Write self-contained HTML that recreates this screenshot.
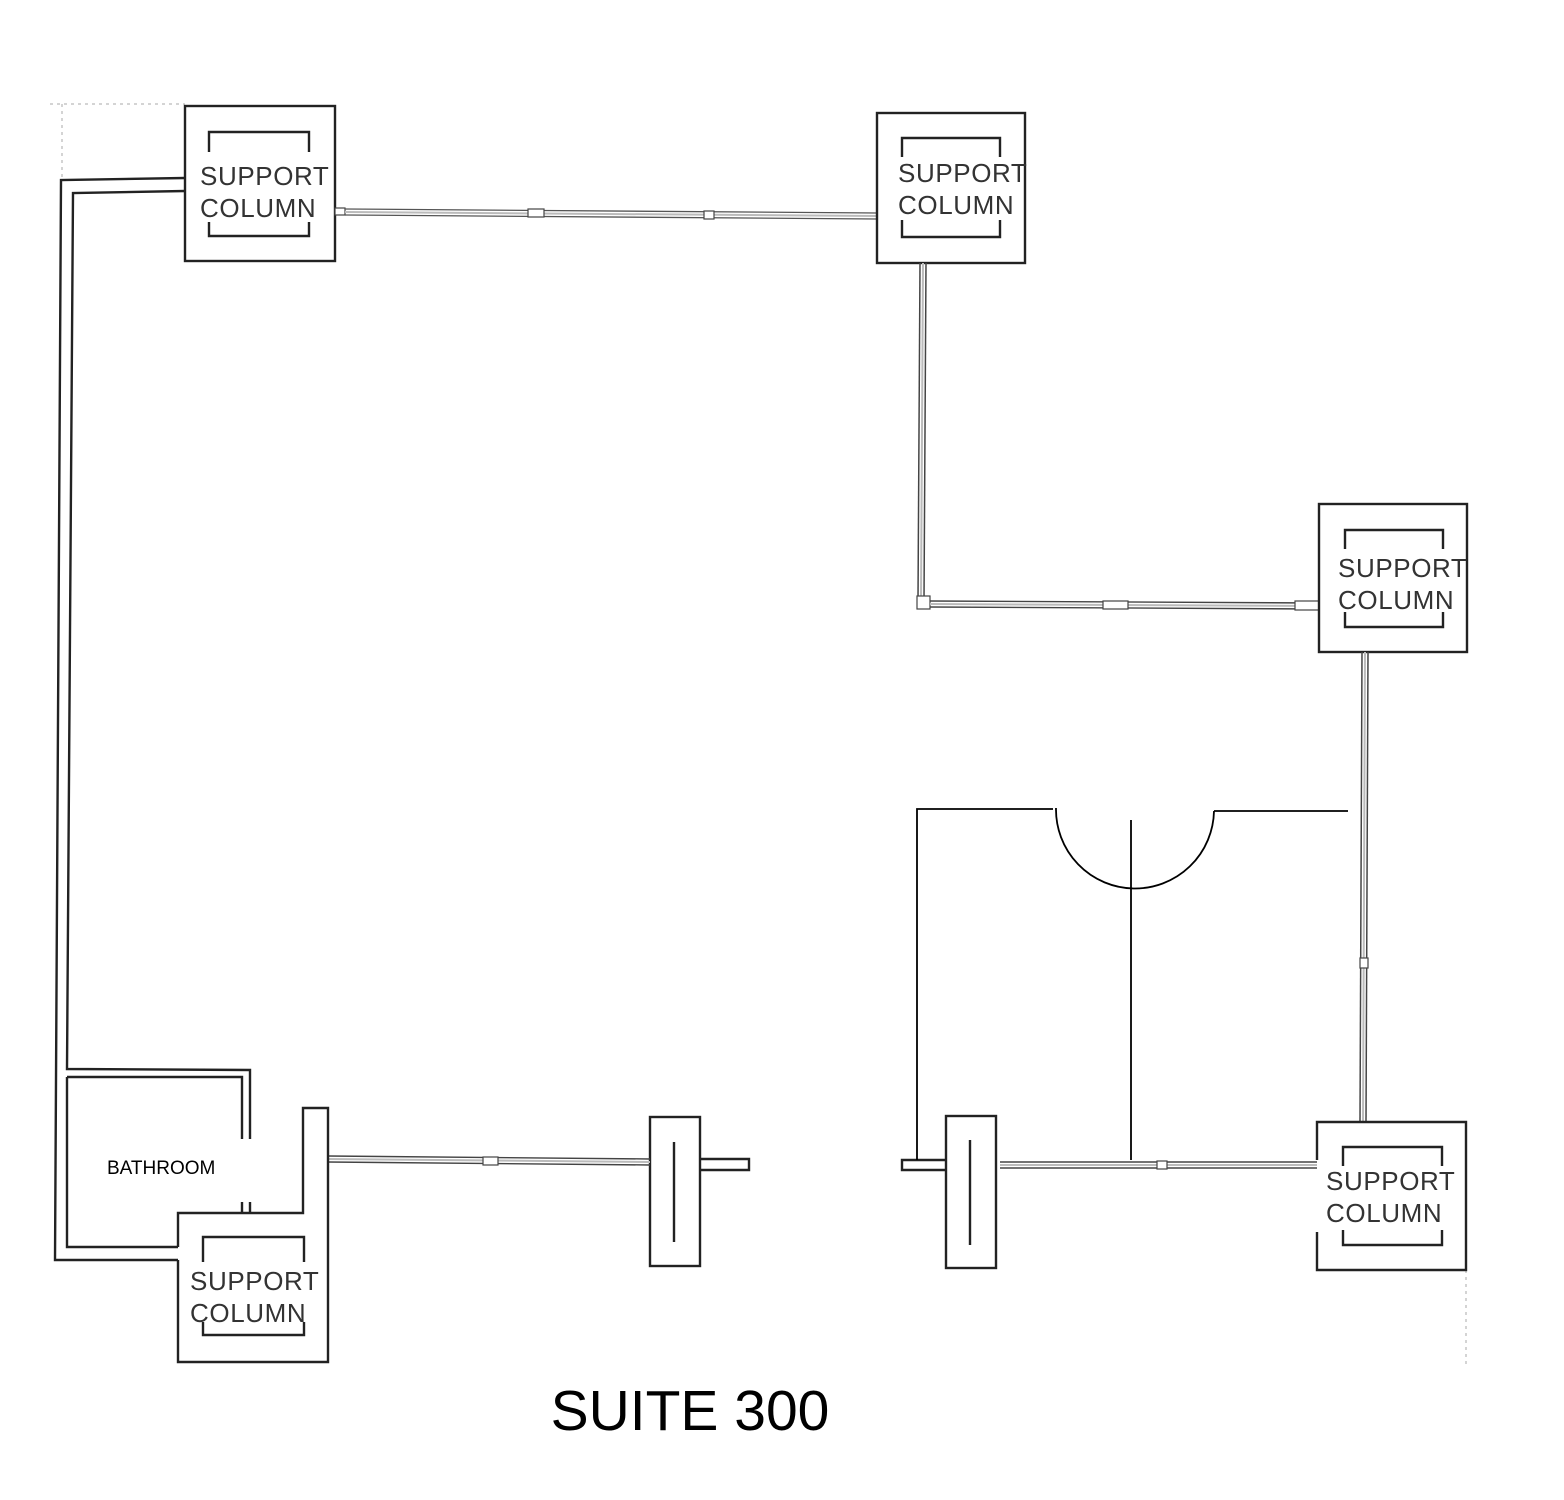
<!DOCTYPE html>
<html><head><meta charset="utf-8"><style>
html,body{margin:0;padding:0;background:#fff;}
svg{display:block;}
.w{fill:none;stroke:#222;stroke-width:2.4;}
.t{stroke:#000;stroke-width:1.8;fill:none;}
.lbl{font-family:"Liberation Sans",sans-serif;font-size:26px;fill:#333;letter-spacing:0.6px;}
.dw{fill:#fff;stroke:#444;stroke-width:1.2;}
</style></head><body>
<svg width="1564" height="1500" viewBox="0 0 1564 1500" xmlns="http://www.w3.org/2000/svg">
<g stroke="#aaa" stroke-width="1" stroke-dasharray="3,4" fill="none">
<line x1="50" y1="104" x2="185" y2="104"/><line x1="62" y1="104" x2="62" y2="178"/>
<line x1="1466" y1="1270" x2="1466" y2="1365"/>
</g>

<path class="w" d="M185 178 L61 180 L55 1260 L178 1260"/>
<path class="w" d="M185 191 L73 193 L67 1069 L250 1070 L250 1139"/>
<path class="w" d="M242 1139 L242 1077 L67 1077"/>
<path class="w" d="M67 1077 L67 1247 L178 1247"/>
<path class="w" d="M242 1202 L242 1213 M250 1202 L250 1213"/>

<rect class="w" x="185" y="106" width="150" height="155"/>
<path class="w" d="M209 152 V132 H309 V152 M209 222 V236 H309 V222"/>
<text class="lbl" x="200" y="185">SUPPORT</text>
<text class="lbl" x="200" y="217">COLUMN</text>

<rect class="dw" x="335" y="208" width="10" height="7"/>
<line x1="345" y1="209" x2="877" y2="213" stroke="#555" stroke-width="1.3"/>
<line x1="345" y1="215" x2="877" y2="219" stroke="#555" stroke-width="1.3"/>
<line x1="345" y1="212" x2="877" y2="216" stroke="#bbb" stroke-width="2"/>
<rect class="dw" x="528" y="209" width="16" height="8"/>
<rect class="dw" x="704" y="211" width="10" height="8"/>

<rect class="w" x="877" y="113" width="148" height="150"/>
<path class="w" d="M902 157 V138 H1000 V157 M902 220 V237 H1000 V220"/>
<text class="lbl" x="898" y="182">SUPPORT</text>
<text class="lbl" x="898" y="214">COLUMN</text>

<line x1="920" y1="263" x2="918" y2="600" stroke="#444" stroke-width="1.5"/>
<line x1="926" y1="263" x2="924" y2="600" stroke="#444" stroke-width="1.5"/>
<line x1="923" y1="263" x2="921" y2="600" stroke="#bbb" stroke-width="2"/>
<rect class="dw" x="917" y="596" width="13" height="13"/>
<line x1="930" y1="601" x2="1318" y2="603" stroke="#444" stroke-width="1.4"/>
<line x1="930" y1="607" x2="1318" y2="609" stroke="#444" stroke-width="1.4"/>
<line x1="930" y1="604" x2="1318" y2="606" stroke="#bbb" stroke-width="2"/>
<rect class="dw" x="1103" y="601" width="25" height="8"/>
<rect class="dw" x="1295" y="601" width="24" height="9"/>

<rect class="w" x="1319" y="504" width="148" height="148"/>
<path class="w" d="M1345 549 V530 H1443 V549 M1345 612 V627 H1443 V612"/>
<text class="lbl" x="1338" y="577">SUPPORT</text>
<text class="lbl" x="1338" y="609">COLUMN</text>

<line x1="1362" y1="652" x2="1360" y2="1122" stroke="#444" stroke-width="1.5"/>
<line x1="1368" y1="652" x2="1366" y2="1122" stroke="#444" stroke-width="1.5"/>
<line x1="1365" y1="652" x2="1363" y2="1122" stroke="#bbb" stroke-width="2"/>
<rect class="dw" x="1360" y="958" width="8" height="10"/>

<path class="w" d="M1317 1160 V1122 H1466 V1270 H1317 V1232"/>
<path class="w" d="M1343 1166 V1147 H1442 V1166 M1343 1230 V1245 H1442 V1230"/>
<text class="lbl" x="1326" y="1190">SUPPORT</text>
<text class="lbl" x="1326" y="1222">COLUMN</text>

<line x1="1000" y1="1162" x2="1317" y2="1162" stroke="#444" stroke-width="1.4"/>
<line x1="1000" y1="1168" x2="1317" y2="1168" stroke="#444" stroke-width="1.4"/>
<line x1="1000" y1="1165" x2="1317" y2="1165" stroke="#bbb" stroke-width="2"/>
<rect class="dw" x="1157" y="1161" width="10" height="8"/>

<rect class="w" x="946" y="1116" width="50" height="152"/>
<line class="w" x1="970" y1="1140" x2="970" y2="1245"/>
<path class="w" d="M946 1160 H902 V1170 H946"/>
<rect class="w" x="650" y="1117" width="50" height="149"/>
<line class="w" x1="674" y1="1142" x2="674" y2="1242"/>
<path class="w" d="M700 1159 H749 V1170 H700"/>

<line x1="328" y1="1156" x2="650" y2="1159" stroke="#444" stroke-width="1.4"/>
<line x1="328" y1="1162" x2="650" y2="1165" stroke="#444" stroke-width="1.4"/>
<line x1="328" y1="1159" x2="650" y2="1162" stroke="#bbb" stroke-width="2"/>
<rect class="dw" x="483" y="1157" width="15" height="8"/>

<path class="w" d="M178 1260 V1362 H328 V1108 H303 V1213 H178 V1247"/>
<path class="w" d="M203 1262 V1237 H304 V1262 M203 1322 V1335 H304 V1322"/>
<text class="lbl" x="190" y="1290">SUPPORT</text>
<text class="lbl" x="190" y="1322">COLUMN</text>
<text x="107" y="1174" font-family="Liberation Sans, sans-serif" font-size="19" fill="#000">BATHROOM</text>

<path class="t" d="M917 1160 V809 H1053"/>
<path class="t" d="M1056 808 A78 78 0 0 0 1214 811"/>
<path class="t" d="M1214 811 H1348"/>
<line class="t" x1="1131" y1="820" x2="1131" y2="1160"/>

<text x="690" y="1430" text-anchor="middle" font-family="Liberation Sans, sans-serif" font-size="57" fill="#000">SUITE 300</text>
</svg>
</body></html>
